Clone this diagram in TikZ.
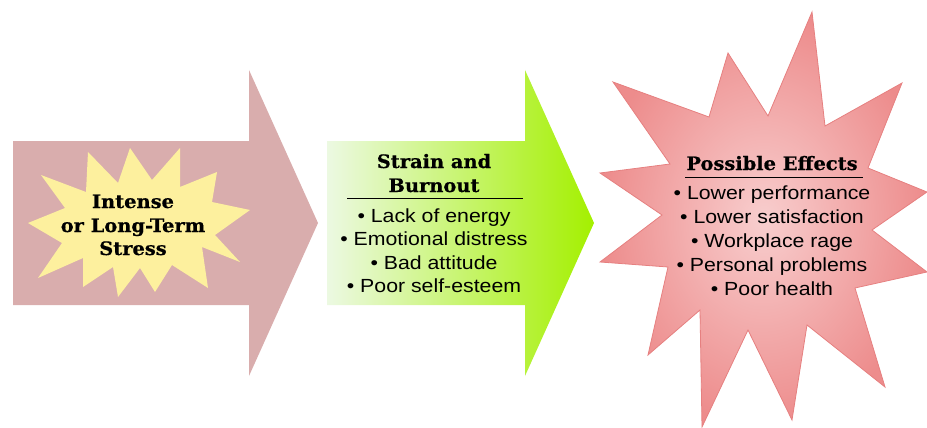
\documentclass[tikz,border=0pt]{standalone}
\usepackage{fontspec}
\newfontfamily\headfont[FakeStretch=1.05, FakeBold=0.6]{DejaVu Serif}
\newfontfamily\listfont[FakeStretch=1.12]{Liberation Sans}
\definecolor{stressbody}{RGB}{217,173,173}
\definecolor{burst}{RGB}{253,240,158}
\definecolor{strainleft}{RGB}{236,249,226}
\definecolor{strainright}{RGB}{164,240,0}
\definecolor{effectin}{RGB}{248,206,206}
\definecolor{effectout}{RGB}{237,140,140}
\definecolor{effectline}{RGB}{230,128,128}
\tikzset{
  headtext/.style={font=\headfont\bfseries\fontsize{18.5}{22}\selectfont, anchor=base, inner sep=0pt},
  listtext/.style={font=\listfont\fontsize{19}{23}\selectfont, anchor=base, inner sep=0pt},
  headrule/.style={line width=0.9pt, black},
}
\begin{document}
\begin{tikzpicture}[x=1pt, y=-1pt]
\useasboundingbox (0,0) rectangle (927,428);

% first block arrow: the stressor
\fill[stressbody] (13,141) -- (249,141) -- (249,70) -- (318,223) -- (249,376)
  -- (249,305) -- (13,305) -- cycle;
\fill[burst] (88,152) -- (118,183) -- (130,148) -- (152,180) -- (180,148)
  -- (180,187) -- (217,172) -- (212,202) -- (250,210) -- (215,235)
  -- (240,262) -- (202,247) -- (208,288) -- (172,265) -- (155,292)
  -- (140,268) -- (118,297) -- (113,267) -- (83,287) -- (83,258)
  -- (38,278) -- (62,243) -- (28,223) -- (65,208) -- (41,175)
  -- (86,192) -- cycle;
\node[headtext] (stress1) at (133,208) {Intense};
\node[headtext] (stress2) at (133,232) {or Long-Term};
\node[headtext] (stress3) at (133,255) {Stress};

% second block arrow: strain and burnout
\shade[left color=strainleft, right color=strainright]
  (327,141) -- (525,141) -- (525,70) -- (594,223) -- (525,376)
  -- (525,305) -- (327,305) -- cycle;
\node[headtext] (strain1) at (434,168) {Strain and};
\node[headtext] (strain2) at (434,192) {Burnout};
\coordinate (srl) at (347,198);
\coordinate (srr) at (523,198);
\draw[headrule] (srl) -- (srr);
\node[listtext] (s1) at (434,222) {• Lack of energy};
\node[listtext] (s2) at (434,245.5) {• Emotional distress};
\node[listtext] (s3) at (434,269) {• Bad attitude};
\node[listtext] (s4) at (434,292.5) {• Poor self-esteem};

% the burst of possible effects
\path[shade, inner color=effectin, outer color=effectout, draw=effectline, line width=0.8pt]
  (812,12) -- (825,126) -- (902,83) -- (868,168) -- (927,192)
  -- (872,230) -- (927,272) -- (855,288) -- (885,387) -- (807,325)
  -- (792,420) -- (748,330) -- (702,427) -- (700,310) -- (648,355)
  -- (668,267) -- (600,262) -- (662,215) -- (600,173) -- (670,164)
  -- (613,82) -- (709,117) -- (728,53) -- (768,116) -- cycle;
\node[headtext] (eff) at (772,170) {Possible Effects};
\coordinate (erl) at (685,177);
\coordinate (err) at (863,177);
\draw[headrule] (erl) -- (err);
\node[listtext] (e1) at (772,199) {• Lower performance};
\node[listtext] (e2) at (772,223) {• Lower satisfaction};
\node[listtext] (e3) at (772,247) {• Workplace rage};
\node[listtext] (e4) at (772,271) {• Personal problems};
\node[listtext] (e5) at (772,295) {• Poor health};
\end{tikzpicture}
\end{document}
